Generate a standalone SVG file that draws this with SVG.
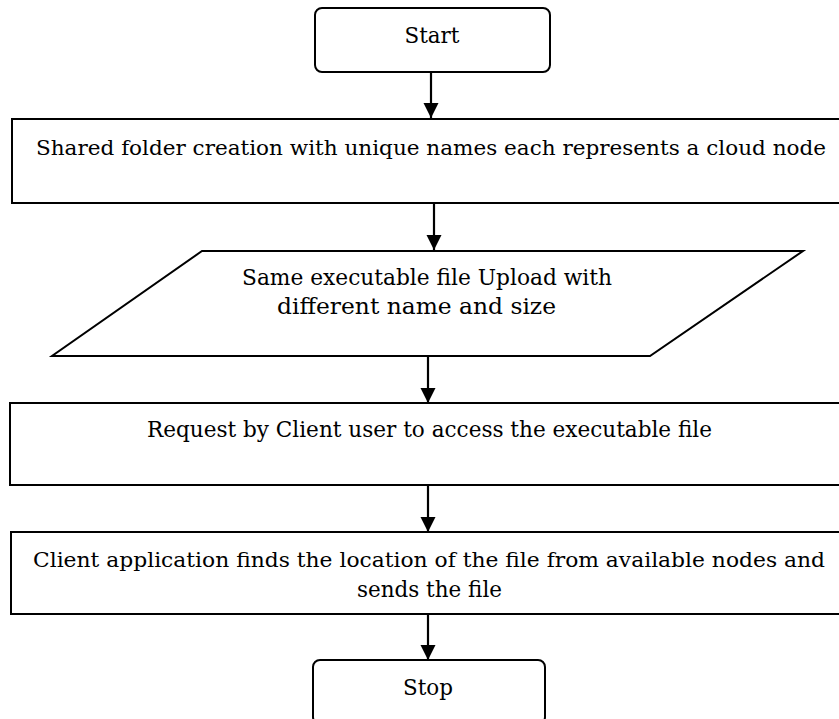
<svg xmlns="http://www.w3.org/2000/svg" width="839" height="719" viewBox="0 0 839 719">
<style>
.shape{fill:#fff;stroke:#000;stroke-width:2}
.t{font-family:"DejaVu Serif","Liberation Serif",serif;font-size:22px;fill:#000;text-anchor:middle}
.long{font-size:21px}
.c{stroke:#000;stroke-width:2.2;fill:none}
</style>
<defs>
<marker id="ah" markerUnits="userSpaceOnUse" markerWidth="16" markerHeight="16" refX="15" refY="8" orient="auto">
<path d="M0,0.5 L15,8 L0,15.5 Z" fill="#000"/>
</marker>
</defs>
<rect width="839" height="719" fill="#fff"/>
<g id="connectors">
<line class="c" x1="431" y1="72" x2="431" y2="118" marker-end="url(#ah)"/>
<line class="c" x1="434" y1="203" x2="434" y2="250" marker-end="url(#ah)"/>
<line class="c" x1="428" y1="356" x2="428" y2="403" marker-end="url(#ah)"/>
<line class="c" x1="428" y1="485" x2="428" y2="532" marker-end="url(#ah)"/>
<line class="c" x1="428" y1="614" x2="428" y2="660" marker-end="url(#ah)"/>
</g>
<g id="start">
<rect class="shape" x="315" y="8" width="235" height="64" rx="7"/>
<text class="t" x="432" y="43" textLength="55" lengthAdjust="spacingAndGlyphs">Start</text>
</g>
<g id="shared-folder">
<rect class="shape" x="12" y="119" width="840" height="84"/>
<text class="t long" x="431" y="155" textLength="790" lengthAdjust="spacingAndGlyphs">Shared folder creation with unique names each represents a cloud node</text>
</g>
<g id="upload">
<polygon class="shape" points="202,251 803,251 650,356 52,356"/>
<text class="t" x="427" y="285" textLength="370" lengthAdjust="spacingAndGlyphs">Same executable file Upload with</text>
<text class="t" x="416.5" y="314" textLength="279" lengthAdjust="spacingAndGlyphs">different name and size</text>
</g>
<g id="request">
<rect class="shape" x="10" y="403" width="840" height="82"/>
<text class="t" x="429.5" y="437" textLength="565" lengthAdjust="spacingAndGlyphs">Request by Client user to access the executable file</text>
</g>
<g id="client-app">
<rect class="shape" x="11" y="532" width="840" height="82"/>
<text class="t long" x="429" y="567" textLength="792" lengthAdjust="spacingAndGlyphs">Client application finds the location of the file from available nodes and</text>
<text class="t" x="429.5" y="597" textLength="145" lengthAdjust="spacingAndGlyphs">sends the file</text>
</g>
<g id="stop">
<rect class="shape" x="313" y="660" width="232" height="64" rx="7"/>
<text class="t" x="428" y="695" textLength="50" lengthAdjust="spacingAndGlyphs">Stop</text>
</g>
</svg>
